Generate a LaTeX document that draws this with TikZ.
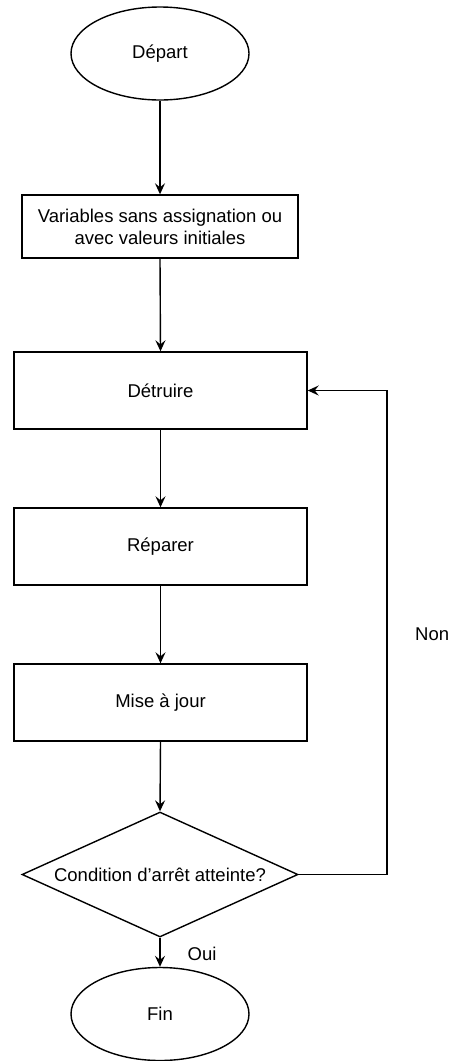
\documentclass[tikz,border=0pt]{standalone}
\usepackage{fontspec}
\setmainfont{Liberation Sans}
\usetikzlibrary{shapes.geometric,arrows.meta}
\begin{document}
\begin{tikzpicture}[x=1pt,y=-1pt,
  base/.style={draw=black,line width=1.4pt,font=\fontsize{18.5}{22}\selectfont,inner sep=0pt,align=center},
  term/.style={base,ellipse,minimum width=178pt,minimum height=93pt},
  proc/.style={base,rectangle,minimum width=293pt,minimum height=77pt},
  dec/.style={base,diamond,minimum width=276pt,minimum height=125pt},
  arr/.style={line width=1.4pt,-{Stealth[length=11pt,width=10pt,inset=4pt]}},
  lbl/.style={font=\fontsize{18.5}{22}\selectfont,inner sep=0pt}]
\useasboundingbox (0,0) rectangle (449,1061);
\node[term] (start) at (160,53.5) {Départ};
\node[base,rectangle,minimum width=276pt,minimum height=63pt] (init) at (160,226.5) {Variables sans assignation ou\\avec valeurs initiales};
\node[proc] (destroy) at (160.5,390.5) {Détruire};
\node[proc] (repair) at (160.5,546.5) {Réparer};
\node[proc] (update) at (160.5,702.5) {Mise à jour};
\node[dec,aspect=2.2] (cond) at (160,874.5) {Condition d\symbol{39}arrêt atteinte?};
\node[term] (end) at (160,1014) {Fin};
\coordinate (c1) at (387,874.5);
\coordinate (c2) at (387,390.5);
\draw[arr] (start.south) -- (init.north);
\draw[arr] (init.south) -- (destroy.north);
\draw[arr] (destroy.south) -- (repair.north);
\draw[arr] (repair.south) -- (update.north);
\draw[arr] (update.south) -- (cond.north);
\draw[arr] (cond.south) -- (end.north);
\draw[arr] (cond.east) -- (c1) -- (c2) -- (destroy.east);
\node[lbl,anchor=west] (non) at (415,634) {Non};
\node[lbl] (oui) at (202,954) {Oui};
\end{tikzpicture}
\end{document}
